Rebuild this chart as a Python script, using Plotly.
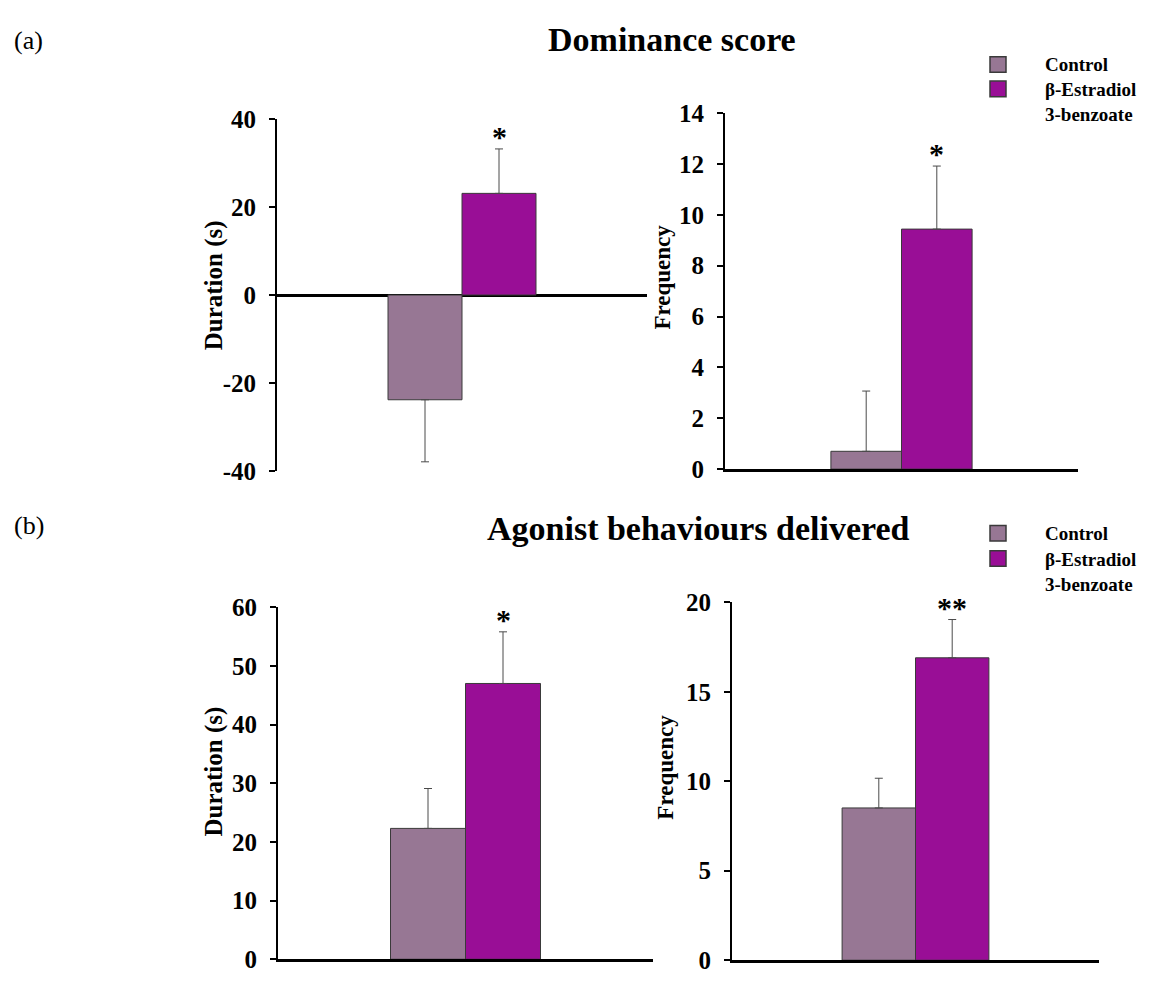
import plotly.graph_objects as go

# ---------------- data ----------------
groups = ["Control", "β-Estradiol 3-benzoate"]

dominance_duration = [-23.8, 23.1]
dominance_duration_sem = [14.1, 10.1]
dominance_frequency = [0.70, 9.44]
dominance_frequency_sem = [2.37, 2.48]

agonist_duration = [22.3, 47.0]
agonist_duration_sem = [6.8, 8.8]
agonist_frequency = [8.51, 16.9]
agonist_frequency_sem = [1.66, 2.14]

significance = ["*", "*", "*", "**"]

# tick values and labels (hyphen minus as in the original)
dominance_duration_ticks = [-40, -20, 0, 20, 40]
dominance_duration_ticklabels = ["-40", "-20", "0", "20", "40"]
dominance_frequency_ticks = [0, 2, 4, 6, 8, 10, 12, 14]
dominance_frequency_ticklabels = ["0", "2", "4", "6", "8", "10", "12", "14"]
agonist_duration_ticks = [0, 10, 20, 30, 40, 50, 60]
agonist_duration_ticklabels = ["0", "10", "20", "30", "40", "50", "60"]
agonist_frequency_ticks = [0, 5, 10, 15, 20]
agonist_frequency_ticklabels = ["0", "5", "10", "15", "20"]

y_titles = ["Duration (s)", "Frequency", "Duration (s)", "Frequency"]
section_titles = ["Dominance score", "Agonist behaviours delivered"]
panel_labels = ["(a)", "(b)"]

# ---------------- style ----------------
W, H = 1151, 982
SERIF = "Liberation Serif, Times New Roman, serif"
COLORS = ["#977794", "#990E96"]
EDGE = "#3a3a3a"


def px(x):
    return x / W


def py(y):
    return 1 - y / H


# panel pixel boxes: (left, right, top, bottom)
boxes = [
    (277, 647, 109, 471),
    (725, 1078, 103, 469),
    (278, 653, 611, 973),
    (732, 1099, 606, 974),
]
ytitle_pos = [(214, 280), (663, 272), (214, 780), (666, 776)]

panel_values = [dominance_duration, dominance_frequency, agonist_duration, agonist_frequency]
panel_sems = [dominance_duration_sem, dominance_frequency_sem, agonist_duration_sem, agonist_frequency_sem]
panel_ticks = [dominance_duration_ticks, dominance_frequency_ticks, agonist_duration_ticks, agonist_frequency_ticks]
panel_ticklabels = [dominance_duration_ticklabels, dominance_frequency_ticklabels,
                    agonist_duration_ticklabels, agonist_frequency_ticklabels]
panel_cats = ["Dominance duration", "Dominance frequency", "Agonist duration", "Agonist frequency"]

fig = go.Figure()
annotations = []
shapes = []

for i in range(4):
    xa = "x" if i == 0 else f"x{i+1}"
    ya = "y" if i == 0 else f"y{i+1}"
    vals = panel_values[i]
    sems = panel_sems[i]
    for j, grp in enumerate(groups):
        v, e = vals[j], sems[j]
        fig.add_trace(go.Bar(
            x=[panel_cats[i]], y=[v], name=grp,
            xaxis=xa, yaxis=ya, offsetgroup=str(j), showlegend=False,
            marker=dict(color=COLORS[j], line=dict(color=EDGE, width=1)),
            error_y=dict(type="data", symmetric=False,
                         array=[e if v >= 0 else 0],
                         arrayminus=[e if v < 0 else 0],
                         color="#4a4a4a", thickness=1, width=4),
        ))
    # significance marker above the treated bar
    top = vals[1] + sems[1]
    annotations.append(dict(
        x=0.1, y=top, xref=xa, yref=ya, text=significance[i], showarrow=False,
        yanchor="bottom", yshift=-6,
        font=dict(family=SERIF, size=30, color="black", weight="bold")))

    l, r, t, b = boxes[i]
    ticks = panel_ticks[i]
    axis_key_x = "xaxis" if i == 0 else f"xaxis{i+1}"
    axis_key_y = "yaxis" if i == 0 else f"yaxis{i+1}"
    fig.update_layout({
        axis_key_x: dict(domain=[px(l), px(r)], anchor=ya, type="category",
                         range=[-0.5, 0.5], showticklabels=False, ticks="",
                         showgrid=False, zeroline=False,
                         showline=(i != 0), linecolor="black", linewidth=3),
        axis_key_y: dict(domain=[py(b), py(t)], anchor=xa,
                         range=[ticks[0], ticks[-1]],
                         tickmode="array", tickvals=ticks, ticktext=panel_ticklabels[i],
                         showline=True, linecolor="black", linewidth=2,
                         ticks="outside", ticklen=6, tickwidth=2, tickcolor="black",
                         showgrid=False,
                         zeroline=(i == 0), zerolinecolor="black", zerolinewidth=2.5,
                         ticklabelstandoff=8,
                         tickfont=dict(family=SERIF, size=25, color="black", weight="bold")),
    })
    tx, ty = ytitle_pos[i]
    annotations.append(dict(
        x=px(tx), y=py(ty), xref="paper", yref="paper", text=y_titles[i],
        textangle=-90, showarrow=False, xanchor="center", yanchor="middle",
        font=dict(family=SERIF, size=25 if i % 2 == 0 else 23, color="black", weight="bold")))

# section titles and panel labels
for title, (cx, cy) in zip(section_titles, [(672, 27), (698, 530)]):
    annotations.append(dict(
        x=px(cx), y=py(cy), xref="paper", yref="paper", text=title, showarrow=False,
        xanchor="center", yanchor="middle",
        font=dict(family=SERIF, size=34, color="black", weight="bold")))
for lab, (cx, cy) in zip(panel_labels, [(28, 28), (29, 527)]):
    annotations.append(dict(
        x=px(cx), y=py(cy), xref="paper", yref="paper", text=lab, showarrow=False,
        xanchor="center", yanchor="middle",
        font=dict(family=SERIF, size=26, color="black")))

# legends (one per row)
legend_rows = [(45, 70, 53), (527, 553, 537)]
for (y_ctrl, y_est, y_txt) in legend_rows:
    for j, ys in enumerate([y_ctrl, y_est]):
        shapes.append(dict(type="rect", xref="paper", yref="paper",
                           x0=px(990), x1=px(1006), y0=py(ys + 16), y1=py(ys),
                           fillcolor=COLORS[j], line=dict(color=EDGE, width=1.5)))
    annotations.append(dict(
        x=px(1043), y=py(y_ctrl + 8), xref="paper", yref="paper", text=groups[0],
        showarrow=False, xanchor="left", yanchor="middle", align="left",
        font=dict(family=SERIF, size=19, color="black", weight="bold")))
    annotations.append(dict(
        x=px(1043), y=py(y_est - 4), xref="paper", yref="paper",
        text=groups[1].replace(" ", "<br>"),
        showarrow=False, xanchor="left", yanchor="top", align="left",
        font=dict(family=SERIF, size=19, color="black", weight="bold")))

fig.update_layout(
    width=W, height=H, margin=dict(l=0, r=0, t=0, b=0),
    paper_bgcolor="white", plot_bgcolor="white",
    barmode="group", bargap=0.6, bargroupgap=0,
    annotations=annotations, shapes=shapes, showlegend=False,
    font=dict(family=SERIF, color="black"),
)

fig.write_html("out.html")
